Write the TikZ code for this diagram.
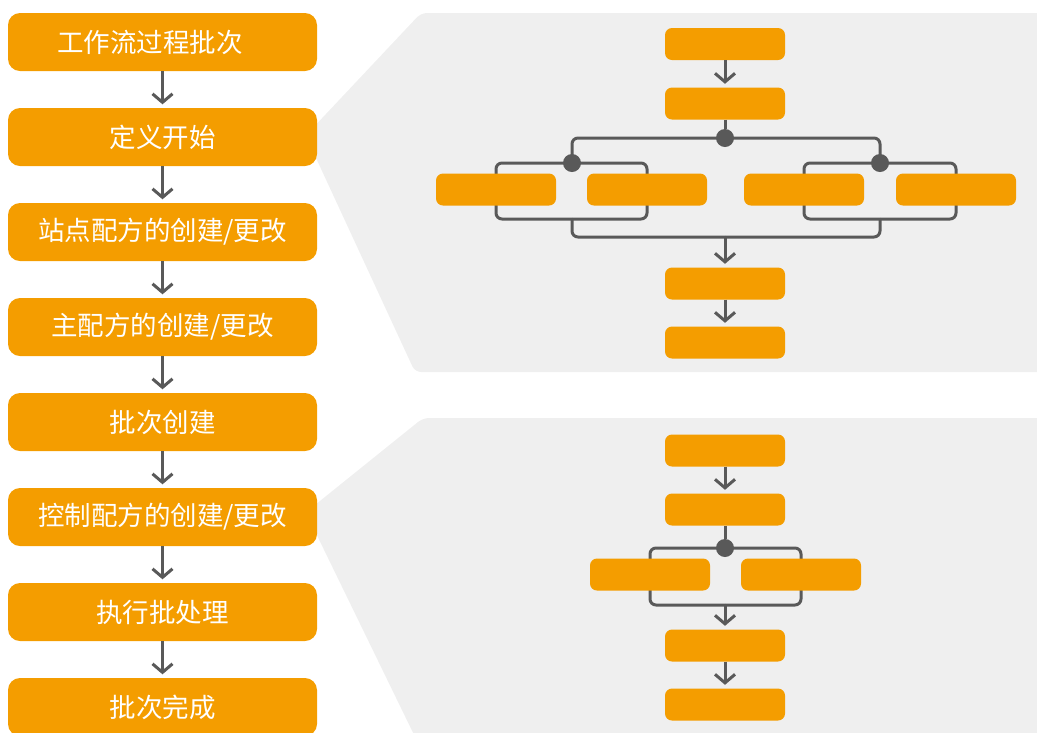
\documentclass[tikz,border=0pt]{standalone}
\usepackage{fontspec}
\setmainfont{Noto Sans CJK SC}
\usetikzlibrary{arrows.meta}
\definecolor{org}{HTML}{F49D00}
\definecolor{lgray}{HTML}{595959}
\definecolor{pgray}{HTML}{EFEFEF}
\pgfdeclarelayer{panel}
\pgfdeclarelayer{lines}
\pgfsetlayers{panel,lines,main}
\tikzset{
  lbox/.style={rectangle, rounded corners=12pt, fill=org, minimum width=309pt, minimum height=58pt, inner sep=0pt, text=white, font=\fontsize{26.5}{30}\selectfont},
  sbox/.style={rectangle, rounded corners=7pt, fill=org, minimum width=120pt, minimum height=32pt, inner sep=0pt},
  dotn/.style={circle, fill=lgray, minimum size=18pt, inner sep=0pt},
  conn/.style={draw=lgray, line width=3pt},
  arr/.style={conn, -{Straight Barb[length=8.5pt,width=20pt]}, shorten >=3.5pt},
  panelfill/.style={fill=pgray, rounded corners=6pt}
}
\begin{document}
\begin{tikzpicture}[x=1pt,y=-1pt]
\useasboundingbox (0,0) rectangle (1037,732);
% left column
\node[lbox] (L1) at (162.5,42) {工作流过程批次\hspace*{25pt}};
\node[lbox] (L2) at (162.5,137) {定义开始};
\node[lbox] (L3) at (162.5,232) {站点配方的创建/更改};
\node[lbox] (L4) at (162.5,327) {主配方的创建/更改};
\node[lbox] (L5) at (162.5,422) {批次创建};
\node[lbox] (L6) at (162.5,517) {控制配方的创建/更改};
\node[lbox] (L7) at (162.5,612) {执行批处理};
\node[lbox] (L8) at (162.5,707) {批次完成};
\foreach \a/\b in {L1/L2,L2/L3,L3/L4,L4/L5,L5/L6,L6/L7,L7/L8}
  \draw[arr] (\a) -- (\b);
% panels
\begin{pgfonlayer}{panel}
\fill[panelfill] (421,13) -- (1045,13) -- (1045,372) -- (415,372) -- (310,145) -- (310,131) -- cycle;
\fill[panelfill] (423,418) -- (1045,418) -- (1045,745) -- (419,745) -- (310,521) -- (310,509) -- cycle;
\end{pgfonlayer}
% top panel
\node[sbox] (A1) at (725,44) {};
\node[sbox] (A2) at (725,103.5) {};
\node[dotn] (D0) at (725,138) {};
\node[dotn] (D1) at (572,163) {};
\node[dotn] (D2) at (880,163) {};
\node[sbox] (B1) at (496,189.5) {};
\node[sbox] (B2) at (647,189.5) {};
\node[sbox] (B3) at (804,189.5) {};
\node[sbox] (B4) at (956,189.5) {};
\coordinate (J1) at (572,219);
\coordinate (J2) at (880,219);
\coordinate (J0) at (725,237);
\node[sbox] (A3) at (725,283.5) {};
\node[sbox] (A4) at (725,342.5) {};
\draw[arr] (A1) -- (A2);
\begin{pgfonlayer}{lines}
\draw[conn] (A2) -- (D0);
\draw[conn, rounded corners=6pt] (D0.center) -| (D1.center);
\draw[conn, rounded corners=6pt] (D0.center) -| (D2.center);
\draw[conn, rounded corners=6pt] (D1.center) -| (B1.center) |- (J1);
\draw[conn, rounded corners=6pt] (D1.center) -| (B2.center) |- (J1);
\draw[conn, rounded corners=6pt] (D2.center) -| (B3.center) |- (J2);
\draw[conn, rounded corners=6pt] (D2.center) -| (B4.center) |- (J2);
\draw[conn, rounded corners=6pt] (J1) |- (J0);
\draw[conn, rounded corners=6pt] (J2) |- (J0);
\end{pgfonlayer}
\draw[arr] (J0) -- (A3);
\draw[arr] (A3) -- (A4);
% bottom panel
\node[sbox] (C1) at (725,450.5) {};
\node[sbox] (C2) at (725,509.5) {};
\node[dotn] (E0) at (725,548) {};
\node[sbox] (C3) at (650,574.5) {};
\node[sbox] (C4) at (801,574.5) {};
\coordinate (K0) at (725,605);
\node[sbox] (C5) at (725,645.5) {};
\node[sbox] (C6) at (725,704.5) {};
\draw[arr] (C1) -- (C2);
\begin{pgfonlayer}{lines}
\draw[conn] (C2) -- (E0);
\draw[conn, rounded corners=6pt] (E0.center) -| (C3.center) |- (K0);
\draw[conn, rounded corners=6pt] (E0.center) -| (C4.center) |- (K0);
\end{pgfonlayer}
\draw[arr] (K0) -- (C5);
\draw[arr] (C5) -- (C6);
\end{tikzpicture}
\end{document}
